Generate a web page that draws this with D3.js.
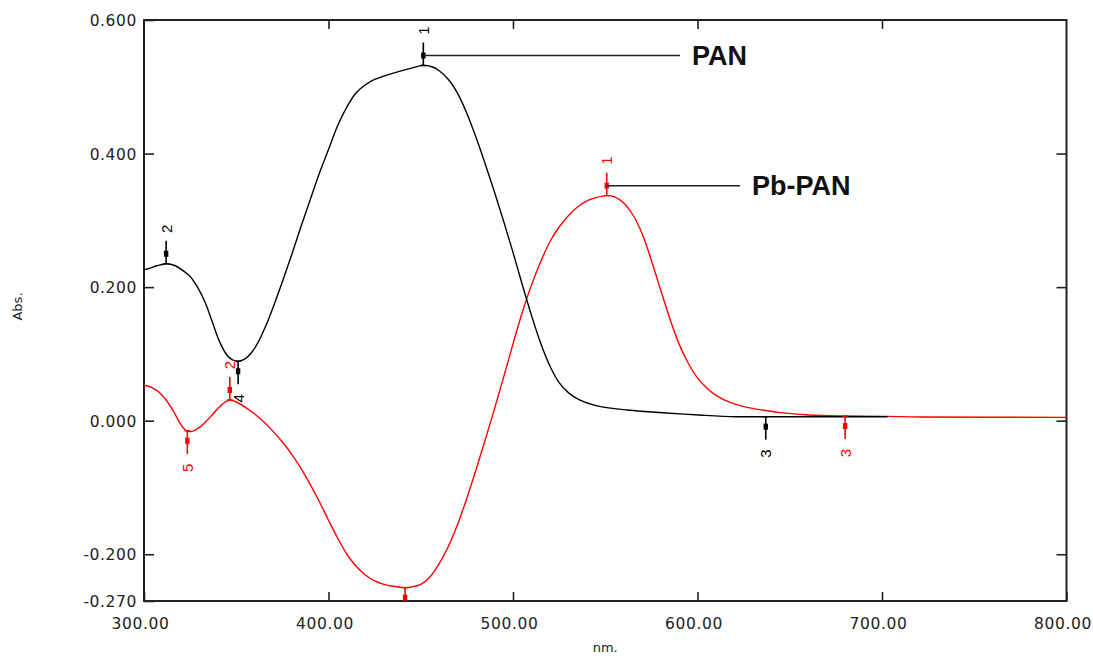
<!DOCTYPE html>
<html>
<head>
<meta charset="utf-8">
<script src="https://cdn.jsdelivr.net/npm/d3@7"></script>
<style>
  html, body { margin: 0; padding: 0; background: #fff; }
  svg { display: block; }
  .tick text { font-family: "DejaVu Sans", sans-serif; font-size: 15.5px; fill: #222; letter-spacing: 0.6px; }
</style>
</head>
<body>
<svg id="chart" width="1093" height="656"></svg>
<script>
// ---------- data ----------
const panNm  = [300,303,307,312,317,321,325,329,333,337,341,345,348,351,355,358,362,366,370,375,380,385,390,395,400,405,410,415,420,425,430,437,445,451,456,460,465,470,475,480,485,490,495,500,505,510,515,520,525,530,536,545,562,583,601,621,640,660,703];
const panAbs = [0.226,0.228,0.232,0.235,0.232,0.225,0.216,0.200,0.178,0.148,0.118,0.098,0.091,0.089,0.093,0.101,0.118,0.142,0.170,0.208,0.248,0.290,0.330,0.370,0.406,0.442,0.470,0.491,0.503,0.511,0.516,0.522,0.528,0.532,0.530,0.524,0.511,0.490,0.460,0.424,0.384,0.342,0.298,0.252,0.204,0.158,0.116,0.082,0.057,0.042,0.031,0.0225,0.016,0.0115,0.0085,0.006,0.006,0.006,0.006];

const pbNm  = [300,304,308,312,316,320,323,326,329,333,337,341,344,346.5,350,355,360,365,370,375,380,385,390,395,400,405,410,415,420,425,430,435,441.5,445,450,455,460,465,470,475,480,485,490,495,500,505,510,515,520,525,530,535,540,545,551,555,560,565,570,575,580,585,590,595,600,605,610,618,627,635,645,660,680,703,720,800];
const pbAbs = [0.053,0.050,0.043,0.031,0.014,-0.006,-0.015,-0.016,-0.012,-0.003,0.009,0.021,0.028,0.031,0.028,0.020,0.010,-0.002,-0.016,-0.032,-0.050,-0.071,-0.095,-0.121,-0.149,-0.176,-0.200,-0.218,-0.231,-0.240,-0.245,-0.248,-0.250,-0.249,-0.245,-0.234,-0.214,-0.188,-0.155,-0.116,-0.073,-0.028,0.018,0.066,0.115,0.162,0.203,0.238,0.268,0.290,0.307,0.320,0.329,0.334,0.337,0.335,0.326,0.308,0.280,0.240,0.196,0.153,0.115,0.086,0.064,0.049,0.038,0.027,0.020,0.016,0.012,0.0085,0.007,0.0065,0.0055,0.005];

// peak / valley markers: series, wavelength, label, kind
const markSeries = ["pan","pan","pan","pan","pb","pb","pb","pb","pb"];
const markNm     = [451.4, 312, 351, 637, 550.8, 346.5, 323.5, 441.5, 680];
const markLabel  = ["1","2","4","3","1","2","5","","3"];
const markKind   = ["peak","peak","valley","valley","peak","peak","valley","valley","valley"];

const xTicks = [300,400,500,600,700,800];
const yTicks = [0.600,0.400,0.200,0.000,-0.200,-0.270];

const seriesNames = ["PAN","Pb-PAN"];
const seriesKeys  = ["pan","pb"];
const seriesColor = {pan:"#000000", pb:"#ff0000"};

// ---------- layout ----------
const L = 144, R = 1066.5, T = 20, B = 601;
const svg = d3.select("#chart");
const x = d3.scaleLinear().domain([300,800]).range([L,R]);
const y = d3.scaleLinear().domain([-0.27,0.6]).range([B,T]);

const clipId = "plotclip";
svg.append("defs").append("clipPath").attr("id",clipId)
  .append("rect").attr("x",L).attr("y",T).attr("width",R-L).attr("height",B-T);

// axes
const axColor = "#222";
const fmtY = d => d3.format(".3f")(d).replace("\u2212","-");
const gL = svg.append("g").attr("transform",`translate(${L},0)`)
  .call(d3.axisLeft(y).tickValues(yTicks).tickFormat(fmtY).tickSizeInner(-10).tickSizeOuter(0).tickPadding(7));
const gR = svg.append("g").attr("transform",`translate(${R},0)`)
  .call(d3.axisRight(y).tickValues(yTicks.slice(1,5)).tickFormat("").tickSizeInner(-10).tickSizeOuter(0));
const gB = svg.append("g").attr("transform",`translate(0,${B})`)
  .call(d3.axisBottom(x).tickValues(xTicks).tickFormat(d3.format(".2f")).tickSizeInner(-9).tickSizeOuter(0).tickPadding(17));
const gT = svg.append("g").attr("transform",`translate(0,${T})`)
  .call(d3.axisTop(x).tickValues(xTicks.slice(1,5)).tickFormat("").tickSizeInner(-9).tickSizeOuter(0));
[gL,gR,gB,gT].forEach(g=>{
  g.select(".domain").remove();
  g.selectAll(".tick line").attr("stroke",axColor).attr("stroke-width",1.6);
});
gB.selectAll(".tick text").attr("dx",-4);
gL.selectAll(".tick text").attr("dy","0.36em");

// frame
svg.append("rect").attr("x",L).attr("y",T).attr("width",R-L).attr("height",B-T)
  .attr("fill","none").attr("stroke",axColor).attr("stroke-width",2);

// axis titles
svg.append("text").attr("transform",`translate(22,${(T+B)/2-4}) rotate(-90)`)
  .attr("text-anchor","middle").attr("font-family","DejaVu Sans, sans-serif").attr("font-size",13).attr("fill","#222").text("Abs.");
svg.append("text").attr("x",(L+R)/2).attr("y",652)
  .attr("text-anchor","middle").attr("font-family","DejaVu Sans, sans-serif").attr("font-size",13).attr("fill","#222").text("nm.");

// curves
const curves = {
  pan: panNm.map((n,i)=>({nm:n, v:panAbs[i]})),
  pb:  pbNm.map((n,i)=>({nm:n, v:pbAbs[i]}))
};
const line = d3.line().x(d=>x(d.nm)).y(d=>y(d.v)).curve(d3.curveCatmullRom.alpha(0.5));
const plot = svg.append("g").attr("clip-path",`url(#${clipId})`);
["pb","pan"].forEach(k=>{
  plot.append("path").datum(curves[k]).attr("d",line)
    .attr("fill","none").attr("stroke",seriesColor[k]).attr("stroke-width",1.4);
});

// value on curve at a wavelength (linear between read points)
function valAt(k,nm){
  const c = curves[k];
  for(let i=1;i<c.length;i++){
    if(nm<=c[i].nm){ const a=c[i-1], b=c[i]; return a.v+(b.v-a.v)*(nm-a.nm)/(b.nm-a.nm); }
  }
  return c[c.length-1].v;
}

// markers
const markers = markNm.map((n,i)=>({k:markSeries[i], nm:n, label:markLabel[i], kind:markKind[i]}));
const mg = plot.append("g");
const markerDot = {};
markers.forEach(m=>{
  const col = seriesColor[m.k];
  const px = x(m.nm), py = y(valAt(m.k,m.nm));
  const s = m.kind==="peak" ? -1 : 1;
  mg.append("line").attr("x1",px-3).attr("x2",px+3).attr("y1",py).attr("y2",py).attr("stroke",col).attr("stroke-width",1.3);
  mg.append("line").attr("x1",px).attr("x2",px).attr("y1",py).attr("y2",py+s*23).attr("stroke",col).attr("stroke-width",1.6);
  mg.append("rect").attr("x",px-2.2).attr("y",py+s*10-3).attr("width",4.4).attr("height",6).attr("fill",col);
  markerDot[m.k+m.label+m.kind] = [px, py+s*10];
  if(m.label){
    mg.append("text").attr("transform",`translate(${px},${py+s*(m.kind==="peak"?35:37)}) rotate(-90)`)
      .attr("text-anchor","middle").attr("dominant-baseline","central")
      .attr("font-family","Liberation Sans, Arial, sans-serif").attr("font-size",15).attr("fill",col).text(m.label);
  }
});

// leader lines + series names
const leaderEndNm = [590.5, 623];
const nameGap = 12;
seriesKeys.forEach((k,i)=>{
  const d = markerDot[k+"1peak"];
  const xe = x(leaderEndNm[i]);
  svg.append("line").attr("x1",d[0]).attr("x2",xe).attr("y1",d[1]).attr("y2",d[1]).attr("stroke","#222").attr("stroke-width",1.5);
  svg.append("text").attr("x",xe+nameGap).attr("y",d[1]).attr("dominant-baseline","central")
    .attr("font-family","Liberation Sans, Arial, sans-serif").attr("font-size",27).attr("font-weight","bold").attr("fill","#111").text(seriesNames[i]);
});
</script>
</body>
</html>
